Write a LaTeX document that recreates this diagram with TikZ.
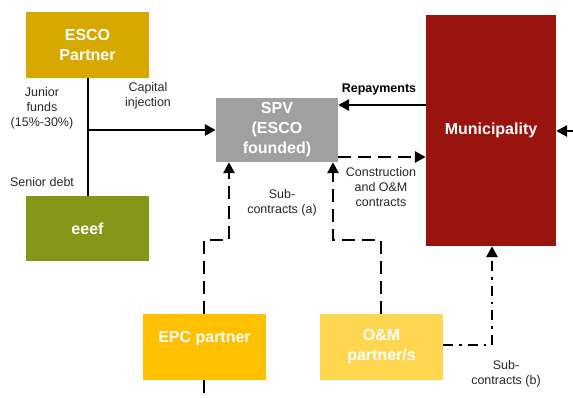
\documentclass[tikz,border=0pt]{standalone}
\usepackage{fontspec}
\setmainfont{Liberation Sans}
\usetikzlibrary{arrows.meta}
\definecolor{escoc}{RGB}{214,168,0}
\definecolor{eeefc}{RGB}{133,150,25}
\definecolor{spvc}{RGB}{160,160,160}
\definecolor{munc}{RGB}{154,20,14}
\definecolor{epcc}{RGB}{255,192,0}
\definecolor{omc}{RGB}{255,214,80}
\definecolor{lbl}{RGB}{40,40,40}
\begin{document}
\begin{tikzpicture}[x=1pt,y=-1pt,
  box/.style={draw=none,text=white,align=center,inner sep=0pt,
    font=\fontsize{16}{20}\selectfont\bfseries},
  lab/.style={text=lbl,align=center,inner sep=0pt,
    font=\fontsize{12.5}{15}\selectfont},
  conn/.style={line width=2.8pt,-{Triangle[length=11pt,width=11pt]}},
  link/.style={line width=2.8pt},
  dsh/.style={dash pattern=on 13pt off 7pt},
  dshdot/.style={dash pattern=on 10pt off 6pt on 2.5pt off 6pt}]
\useasboundingbox (0,0) rectangle (573,398);
\fill[white] (0,0) rectangle (573,398);

% boxes
\node[box,fill=escoc,minimum width=123pt,minimum height=66pt] (esco) at (87.5,45) {ESCO\\Partner};
\node[box,fill=eeefc,minimum width=123pt,minimum height=65pt] (eeef) at (87.5,228.5) {eeef};
\node[box,fill=spvc,minimum width=122pt,minimum height=64pt] (spv) at (277,130) {SPV\\(ESCO\\founded)};
\node[box,fill=munc,minimum width=130pt,minimum height=231pt] (mun) at (491,130.5) {Municipality};
\node[box,fill=epcc,minimum width=123pt,minimum height=66pt] (epc) at (204.5,347) {EPC partner\\\mbox{}};
\node[box,fill=omc,minimum width=123pt,minimum height=66pt] (om) at (381.5,347) {O\&M\\partner/s};

% helper points
\coordinate (j) at (88,130);
\coordinate (e1) at (204,240);
\coordinate (e2) at (229,240);
\coordinate (o1) at (381,240);
\coordinate (o2) at (333,240);
\coordinate (b1) at (492,345);
\coordinate (rin) at (580,131);
\coordinate (epcout) at (204,402);

% financing
\draw[link] (esco.south -| j) -- (eeef.north -| j);
\draw[conn] (j) -- (spv.west);
\draw[conn] (mun.west |- 0,105) -- (spv.east |- 0,105);
\draw[conn,dsh] (spv.east |- 0,157) -- (mun.west |- 0,157);

% sub-contracts
\draw[conn,dsh] (epc.north -| e1) -- (e1) -- (e2) -- (spv.south -| e2);
\draw[conn,dsh] (om.north -| o1) -- (o1) -- (o2) -- (spv.south -| o2);
\draw[conn,dshdot] (om.east |- b1) -- (b1) -- (mun.south -| b1);
\draw[conn,dsh] (rin) -- (mun.east |- rin);
\draw[link,dsh] (epc.south -| epcout) -- (epcout);

% labels
\node[lab] (ljun) at (42,108) {Junior\\funds\\(15\%-30\%)};
\node[lab] (lcap) at (148,96) {Capital\\injection};
\node[lab] (lsen) at (42,182) {Senior debt};
\node[lab,font=\fontsize{12.5}{15}\selectfont\bfseries,text=black] (lrep) at (379,89) {Repayments};
\node[lab] (lcon) at (381,187) {Construction\\and O\&M\\contracts};
\node[lab] (lsa) at (282,203) {Sub-\\contracts (a)};
\node[lab] (lsb) at (506,374) {Sub-\\contracts (b)};
\end{tikzpicture}
\end{document}
